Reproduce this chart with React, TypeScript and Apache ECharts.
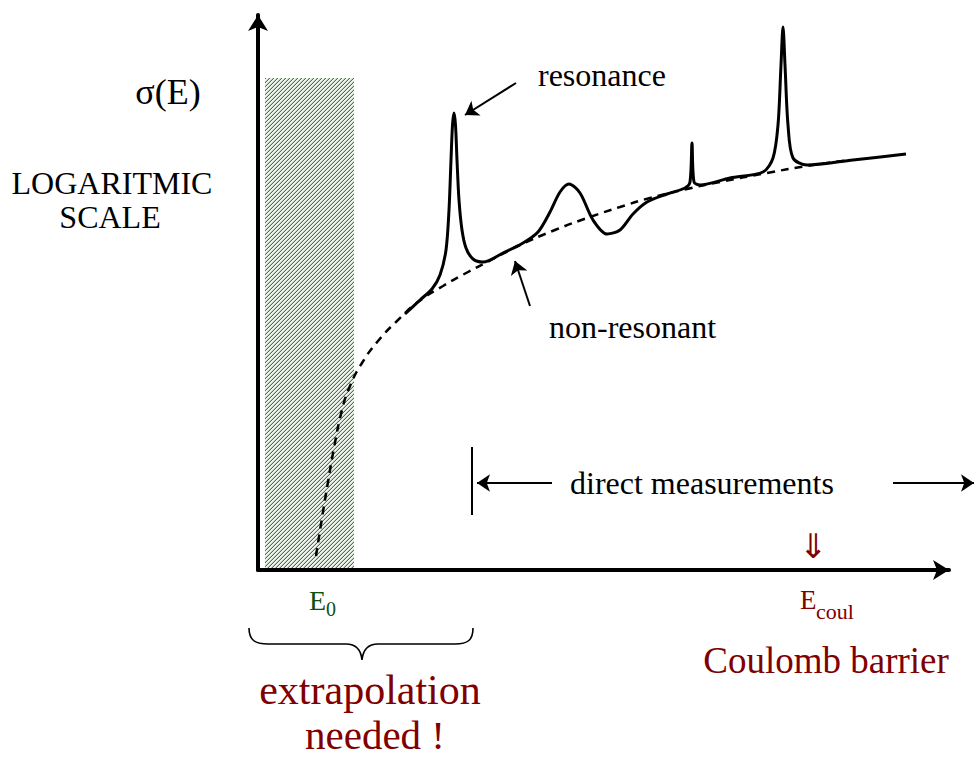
import React, { useEffect, useRef } from "react";
import * as echarts from "echarts";

// Values, in arbitrary units (x: energy, y: log sigma)
const nonResonant: [number, number][] = [
  [58, 14], [64, 52], [70, 88], [76, 122], [84, 160], [92, 184], [104, 207], [120, 229],
  [140, 250], [160, 268], [185, 284], [210, 298], [235, 311], [262, 325], [297, 340],
  [332, 353], [362, 363], [392, 372], [429, 381], [462, 388], [509, 397], [549, 404],
  [592, 410],
];

const measured: [number, number][] = [
  [147, 256], [162, 270], [174, 281], [182, 295], [188, 320], [191, 360], [193, 410],
  [194.5, 445], [196, 457], [197.5, 445], [199, 410], [201, 370], [204, 340], [208, 322],
  [215, 311], [225, 308], [245, 317], [265, 327], [280, 338], [292, 358], [302, 378],
  [311, 386], [322, 377], [335, 350], [349, 336], [362, 340], [375, 356], [389, 368],
  [409, 376], [427, 382], [432, 388], [434, 427], [436, 388], [442, 385], [472, 392],
  [505, 398], [515, 412], [520, 445], [523, 505], [525, 543], [527, 505], [530, 445],
  [535, 412], [549, 405], [595, 410], [648, 416],
];

const extrapolationRegion: [number, number][] = [[7, 492], [96, 2]];

const arrows: [number, number][][] = [
  [[258, 487], [207, 455]], // resonance
  [[272, 264], [257, 309]], // non-resonant
  [[294, 87], [219, 87]],   // direct measurements left
  [[635, 87], [716, 87]],   // direct measurements right
];
const directStart: [number, number][] = [[214, 123], [214, 55]];

const X_MAX = 691;
const Y_MAX = 555;

const SERIF = "'Liberation Serif', 'Times New Roman', serif";
const RED = "#800000";
const GREEN = "#0f4f12";

function makeHatch(): HTMLCanvasElement {
  const c = document.createElement("canvas");
  c.width = 4;
  c.height = 4;
  const ctx = c.getContext("2d")!;
  ctx.fillStyle = "#eef4ec";
  ctx.fillRect(0, 0, 4, 4);
  for (let x = 0; x < 4; x++)
    for (let y = 0; y < 4; y++) {
      const k = (x + y) % 4;
      if (k === 3) {
        ctx.fillStyle = "#566c56";
        ctx.fillRect(x, y, 1, 1);
      } else if (k === 2) {
        ctx.fillStyle = "#c2d0c1";
        ctx.fillRect(x, y, 1, 1);
      }
    }
  return c;
}

const bracePath =
  "M249 628 C249 640 255 644 268 644 L346 644 C356 644 361 650 362 660 C363 650 368 644 378 644 L455 644 C468 644 473 640 473 628";

export default function App() {
  const ref = useRef<HTMLDivElement>(null);
  useEffect(() => {
    document.body.style.margin = "0";
    if (!ref.current) return;
    echarts.graphic.registerShape("brace", echarts.graphic.extendPath(bracePath, {}));
    const chart = echarts.init(ref.current, null, { renderer: "svg" });
    const txt = (text: string, x: number, y: number, size: number, color = "#000", align = "left", family = SERIF, weight = "normal") => ({
      type: "text",
      x,
      y,
      silent: true,
      style: {
        text,
        fill: color,
        font: `${weight} ${size}px ${family}`,
        textAlign: align,
        textVerticalAlign: "middle",
      },
    });
    chart.setOption({
      animation: false,
      backgroundColor: "#fff",
      grid: { left: 258, top: 15, width: X_MAX, height: Y_MAX },
      xAxis: {
        type: "value",
        min: 0,
        max: X_MAX,
        axisLine: { show: true, symbol: ["none", "arrow"], symbolSize: [15, 16], lineStyle: { color: "#000", width: 4 } },
        axisTick: { show: false },
        axisLabel: { show: false },
        splitLine: { show: false },
      },
      yAxis: {
        type: "value",
        min: 0,
        max: Y_MAX,
        axisLine: { show: true, symbol: ["none", "arrow"], symbolSize: [15, 16], lineStyle: { color: "#000", width: 4 } },
        axisTick: { show: false },
        axisLabel: { show: false },
        splitLine: { show: false },
      },
      series: [
        {
          type: "line",
          data: nonResonant,
          smooth: 0.5,
          symbol: "none",
          lineStyle: { color: "#000", width: 2.5, type: [8, 6] },
          z: 3,
          markArea: {
            silent: true,
            itemStyle: { color: { image: makeHatch(), repeat: "repeat" } },
            data: [[{ coord: extrapolationRegion[0] }, { coord: extrapolationRegion[1] }]],
          },
        },
        {
          type: "line",
          data: measured,
          smooth: 0.3,
          symbol: "none",
          lineStyle: { color: "#000", width: 3 },
          z: 4,
        },
        {
          type: "lines",
          coordinateSystem: "cartesian2d",
          clip: false,
          symbol: ["none", "arrow"],
          symbolSize: 13,
          lineStyle: { color: "#000", width: 2, opacity: 1 },
          data: arrows.map((c) => ({ coords: c })),
          z: 5,
        },
        {
          type: "lines",
          coordinateSystem: "cartesian2d",
          clip: false,
          symbol: "none",
          lineStyle: { color: "#000", width: 2, opacity: 1 },
          data: [{ coords: directStart }],
          z: 5,
        },
      ],
      graphic: [
        txt("σ(E)", 168, 92, 36, "#000", "center"),
        txt("LOGARITMIC", 112, 183, 32, "#000", "center"),
        txt("SCALE", 110, 217, 32, "#000", "center"),
        txt("resonance", 538, 75, 32),
        txt("non-resonant", 549, 327, 32),
        txt("direct measurements", 570, 483, 32),
        txt("⇓", 813, 543, 34, RED, "center", "'Noto Sans CJK JP', 'DejaVu Sans', sans-serif", "300"),
        txt("E", 309, 600, 28, GREEN),
        txt("0", 326, 609, 20, GREEN),
        txt("E", 800, 600, 27, RED),
        txt("coul", 816, 611, 22, RED),
        txt("Coulomb barrier", 826, 660, 37, RED, "center"),
        txt("extrapolation", 370, 690, 42, RED, "center"),
        txt("needed !", 375, 735, 41, RED, "center"),
        {
          type: "brace",
          x: 0,
          y: 0,
          silent: true,
          style: { fill: "none", stroke: "#000", lineWidth: 1.6 },
        },
      ],
    });
    return () => chart.dispose();
  }, []);
  return <div ref={ref} style={{ width: 980, height: 758 }} />;
}
